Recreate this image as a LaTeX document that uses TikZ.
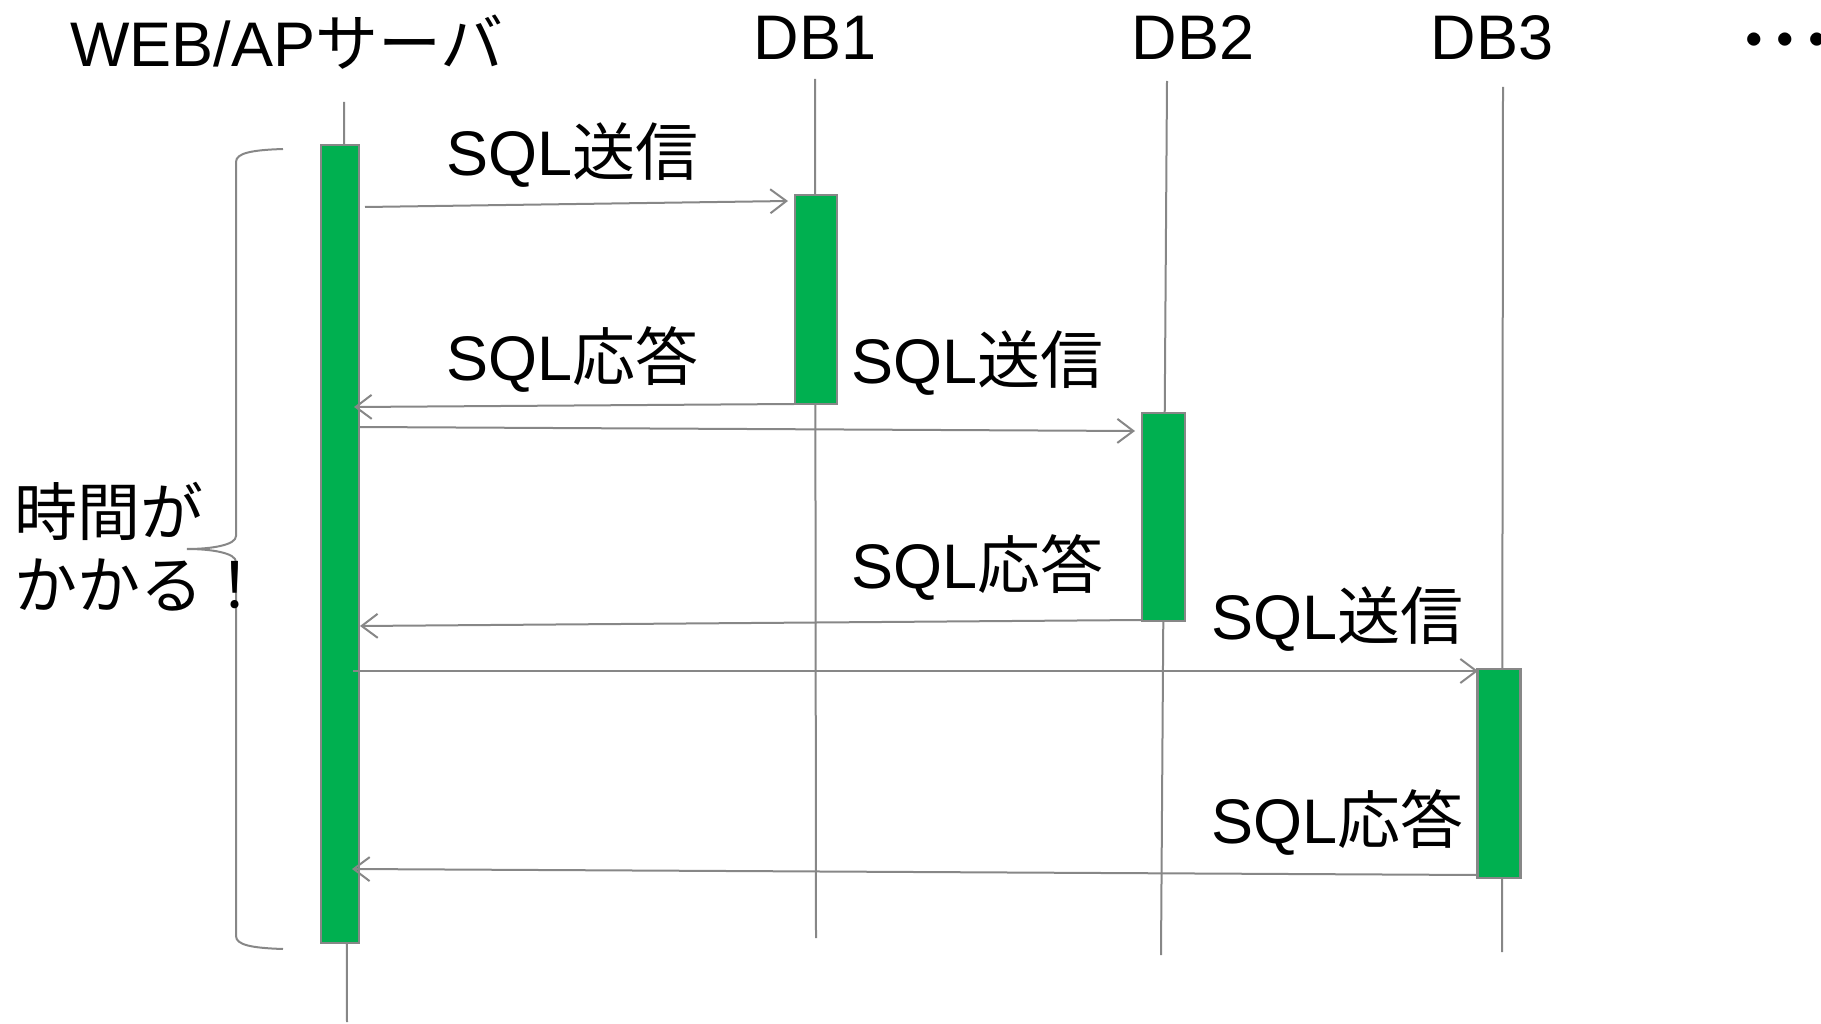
\documentclass[tikz,border=0pt]{standalone}
\usepackage{fontspec}
\setmainfont{Liberation Sans}
\newfontfamily\jp{Noto Sans CJK JP}
\usetikzlibrary{arrows.meta}
\definecolor{barG}{HTML}{00B050}
\definecolor{lineG}{HTML}{878787}
\begin{document}
\begin{tikzpicture}[x=1pt,y=-1pt,
  lifeline/.style={draw=lineG, line width=2pt},
  bar/.style={draw=lineG, line width=2.5pt, fill=barG, inner sep=0pt, rectangle},
  msg/.style={draw=lineG, line width=2pt, -{Straight Barb[length=16pt,width=24pt,line width=2pt]}},
  lbl/.style={anchor=base west, inner sep=0pt, font=\fontsize{63}{74}\selectfont},
  brace/.style={draw=lineG, line width=2pt}]
\useasboundingbox (0,0) rectangle (1821,1024);
\clip (0,0) rectangle (1821,1024);

% titles
\node[lbl] (web) at (70,67) {WEB/AP{\jp サーバ}};
\node[lbl,anchor=base] (db1) at (815,60) {DB1};
\node[lbl,anchor=base] (db2) at (1193,60) {DB2};
\node[lbl,anchor=base] (db3) at (1492,60) {DB3};
\node[lbl] (dots) at (1738,64) {\jp\bfseries ･･･};

% lifelines
\coordinate (wt) at (344,102); \coordinate (wb) at (347,1022);
\coordinate (d1t) at (815,79); \coordinate (d1b) at (816,938);
\coordinate (d2t) at (1167,81); \coordinate (d2b) at (1161,955);
\coordinate (d3t) at (1503,87); \coordinate (d3b) at (1502,952);
\draw[lifeline] (wt) -- (wb);
\draw[lifeline] (d1t) -- (d1b);
\draw[lifeline] (d2t) -- (d2b);
\draw[lifeline] (d3t) -- (d3b);

% activation bars
\node[bar, minimum width=38pt, minimum height=798pt] (wbar) at (340,544) {};
\node[bar, minimum width=42pt, minimum height=209pt] (b1) at (816,299.5) {};
\node[bar, minimum width=43pt, minimum height=208pt] (b2) at (1163.5,517) {};
\node[bar, minimum width=43pt, minimum height=209pt] (b3) at (1499,773.5) {};

% messages
\coordinate (m1a) at (365,207);  \coordinate (m1b) at (788,201);
\coordinate (m2a) at (794,404);  \coordinate (m2b) at (354,407);
\coordinate (m3a) at (359,427);  \coordinate (m3b) at (1135,431);
\coordinate (m4a) at (1142,620); \coordinate (m4b) at (360,626);
\coordinate (m5a) at (353,671);  \coordinate (m5b) at (1478,671);
\coordinate (m6a) at (1477,875); \coordinate (m6b) at (352,869);
\draw[msg] (m1a) -- (m1b);
\draw[msg] (m2a) -- (m2b);
\draw[msg] (m3a) -- (m3b);
\draw[msg] (m4a) -- (m4b);
\draw[msg] (m5a) -- (m5b);
\draw[msg] (m6a) -- (m6b);

% labels
\node[lbl] (s1) at (446,176) {SQL{\jp 送信}};
\node[lbl] (r1) at (446,381) {SQL{\jp 応答}};
\node[lbl] (s2) at (851,383) {SQL{\jp 送信}};
\node[lbl] (r2) at (851,588) {SQL{\jp 応答}};
\node[lbl] (s3) at (1211,639) {SQL{\jp 送信}};
\node[lbl] (r3) at (1211,843) {SQL{\jp 応答}};

% brace
\draw[brace] (283,149) .. controls (252,150) and (236,153) .. (236,162) -- (236,536)
  .. controls (236,545) and (212,549) .. (187,549)
  .. controls (212,549) and (236,553) .. (236,562) -- (236,936)
  .. controls (236,945) and (252,948) .. (283,949);
\node[lbl] (t1) at (14,535) {\jp 時間が};
\node[lbl] (t2) at (14,608) {\jp かかる！};
\end{tikzpicture}
\end{document}
